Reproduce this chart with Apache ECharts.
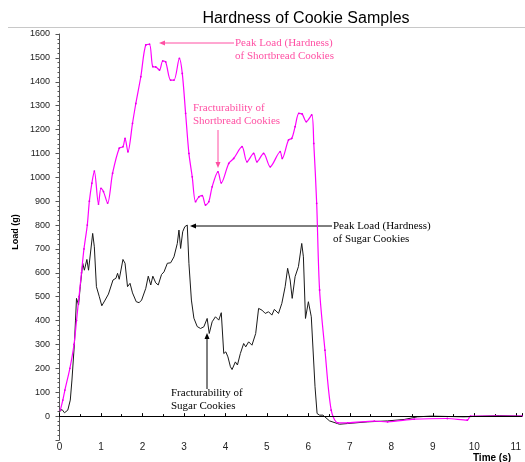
<!DOCTYPE html>
<html><head><meta charset="utf-8">
<script src="https://cdn.jsdelivr.net/npm/echarts@6/dist/echarts.min.js"></script>
<style>html,body{margin:0;padding:0;background:#fff}#c{width:525px;height:462px}</style>
</head><body><div id="c"></div>
<script>
// Shortbread cookies (magenta)
const shortTime = [0.02,0.08,0.13,0.25,0.35,0.41,0.47,0.53,0.59,0.67,0.72,0.78,0.84,0.94,1.00,1.06,1.16,1.28,1.44,1.53,1.58,1.65,1.76,1.84,1.96,2.08,2.17,2.25,2.32,2.41,2.49,2.56,2.68,2.76,2.89,2.96,3.04,3.12,3.20,3.28,3.36,3.44,3.52,3.60,3.68,3.82,3.90,4.08,4.20,4.40,4.52,4.68,4.76,4.92,5.08,5.32,5.37,5.52,5.60,5.68,5.77,5.85,5.95,6.08,6.13,6.20,6.27,6.40,6.55,6.71,6.95,7.59,7.91,8.55,9.35,9.83,9.91,10.5,11.15];
const shortLoad = [25,67,109,200,300,400,500,600,700,800,900,975,1026,888,954,940,892,1017,1122,1128,1163,1107,1226,1309,1421,1554,1557,1463,1462,1449,1487,1483,1407,1407,1498,1435,1268,1100,1002,898,918,923,884,898,960,1023,977,1058,1079,1128,1065,1100,1065,1100,1044,1107,1079,1156,1163,1212,1268,1265,1233,1261,1142,891,528,276,25,-28,-28,-21,-24,-13,-10,-17,0,0,0];
// Sugar cookies (black)
const sugarTime = [0,0.06,0.12,0.2,0.26,0.30,0.36,0.41,0.46,0.50,0.56,0.60,0.66,0.70,0.80,0.84,0.89,0.96,1.02,1.10,1.18,1.22,1.29,1.36,1.40,1.44,1.53,1.58,1.64,1.70,1.76,1.85,1.92,1.98,2.08,2.14,2.20,2.25,2.32,2.38,2.46,2.52,2.60,2.68,2.76,2.84,2.88,2.92,2.97,3.02,3.05,3.08,3.12,3.18,3.24,3.32,3.40,3.48,3.56,3.61,3.68,3.76,3.84,3.90,3.96,4.01,4.06,4.12,4.16,4.24,4.29,4.36,4.44,4.49,4.56,4.64,4.73,4.80,4.88,4.96,5.04,5.12,5.18,5.28,5.36,5.44,5.50,5.56,5.61,5.68,5.76,5.84,5.88,5.93,6.00,6.07,6.16,6.21,6.27,6.35,6.51,6.75,6.95,7.43,7.91,8.31,8.63,8.95,9.75,10.2,10.6,11.15];
const sugarLoad = [18,28,14,25,67,151,304,493,465,542,640,611,656,611,765,709,542,500,462,486,511,503,570,577,598,573,656,640,542,556,516,479,475,486,535,586,549,586,558,549,593,604,640,642,667,723,779,702,772,793,786,800,640,486,410,375,367,374,409,346,395,416,402,433,262,269,248,207,195,227,214,262,304,290,311,297,346,451,444,430,437,423,447,430,472,542,619,570,493,584,626,723,667,409,479,416,123,11,4,4,-20,-34,-31,-24,-20,-14,-3,0,-3,0,2,0];

const titleText = 'Hardness of Cookie Samples';
const xName = 'Time (s)';
const yName = 'Load (g)';
const PINK = '#ff4fa3';

function pairs(t, v){ return t.map((x,i)=>[x, v[i]]); }

function arrow(x1,y1,x2,y2,color){
  const dx = x2-x1, dy = y2-y1, L = Math.hypot(dx,dy), ux = dx/L, uy = dy/L;
  const hl = 6, hw = 2.5;
  const bx = x2-ux*hl, by = y2-uy*hl;
  return [
    {type:'line', shape:{x1:x1,y1:y1,x2:bx,y2:by}, style:{stroke:color,lineWidth:1}},
    {type:'polygon', shape:{points:[[x2,y2],[bx-uy*hw,by+ux*hw],[bx+uy*hw,by-ux*hw]]}, style:{fill:color}}
  ];
}
function label(x,y,lines,color){
  return lines.map((s,i)=>({type:'text', x:x, y:y+i*13, style:{text:s, fill:color, font:'11px "Liberation Serif", "Times New Roman", serif', textVerticalAlign:'middle'}}));
}

const chart = echarts.init(document.getElementById('c'), null, {renderer:'canvas'});
const axisFont = '"Liberation Sans", Arial, sans-serif';
chart.setOption({
  animation:false,
  backgroundColor:'#fff',
  grid:{left:59.5, right:0, top:34, bottom:22, containLabel:false},
  xAxis:{type:'value', min:0, max:11.15, interval:1,
    axisLine:{lineStyle:{color:'#000',width:1}},
    axisTick:{inside:true, length:3, lineStyle:{color:'#000'}},
    minorTick:{show:true, splitNumber:2, length:2, lineStyle:{color:'#000'}},
    splitLine:{show:false},
    axisLabel:{margin:2, fontSize:10, color:'#222', fontFamily:axisFont,
      formatter:v=> Math.abs(v-Math.round(v))<1e-6 ? String(Math.round(v)) : ''}
  },
  yAxis:{type:'value', min:-100, max:1600, interval:100, offset:3.5,
    axisLine:{show:true, lineStyle:{color:'#555',width:1}},
    axisTick:{show:true, length:4, lineStyle:{color:'#555'}},
    minorTick:{show:true, splitNumber:5, length:2, lineStyle:{color:'#555'}},
    splitLine:{show:false},
    axisLabel:{margin:6, fontSize:9, color:'#222', fontFamily:axisFont,
      formatter:v=> v<0 ? '' : String(v)}
  },
  series:[
    {type:'line', name:'Sugar', data:pairs(sugarTime,sugarLoad), showSymbol:false,
      lineStyle:{color:'#1a1a1a', width:1}, itemStyle:{color:'#1a1a1a'},
      markLine:{silent:true, symbol:['none','none'], label:{show:false},
        lineStyle:{color:'#000', width:1, type:'solid'}, data:[{yAxis:0}]}},
    {type:'line', name:'Shortbread', data:pairs(shortTime,shortLoad), showSymbol:true, showAllSymbol:true,
      smooth:0.3, symbol:'circle', symbolSize:1.8,
      lineStyle:{color:'#ff00ff', width:1.2}, itemStyle:{color:'#e600e6', borderWidth:0}}
  ],
  graphic:[
    {type:'line', shape:{x1:8,y1:27.5,x2:525,y2:27.5}, style:{stroke:'#c8c8c8',lineWidth:1}},
    {type:'text', x:306, y:19, style:{text:titleText, fill:'#000', font:'16px '+axisFont, textAlign:'center', textVerticalAlign:'middle'}},
    {type:'text', x:492, y:458, style:{text:xName, fill:'#000', font:'bold 10px '+axisFont, textAlign:'center', textVerticalAlign:'middle'}},
    {type:'text', x:16, y:232, rotation:Math.PI/2, style:{text:yName, fill:'#000', font:'bold 9px '+axisFont, textAlign:'center', textVerticalAlign:'middle'}},
    ...arrow(234,43,159,43,PINK),
    ...label(235,43,['Peak Load (Hardness)','of Shortbread Cookies'],PINK),
    ...arrow(218,130,218,168,PINK),
    ...label(193,108,['Fracturability of','Shortbread Cookies'],PINK),
    ...arrow(332,226,190,226,'#000'),
    ...label(333,226,['Peak Load (Hardness)','of Sugar Cookies'],'#000'),
    ...arrow(207,389,207,333,'#000'),
    ...label(171,393,['Fracturability of','Sugar Cookies'],'#000')
  ]
});
</script></body></html>
